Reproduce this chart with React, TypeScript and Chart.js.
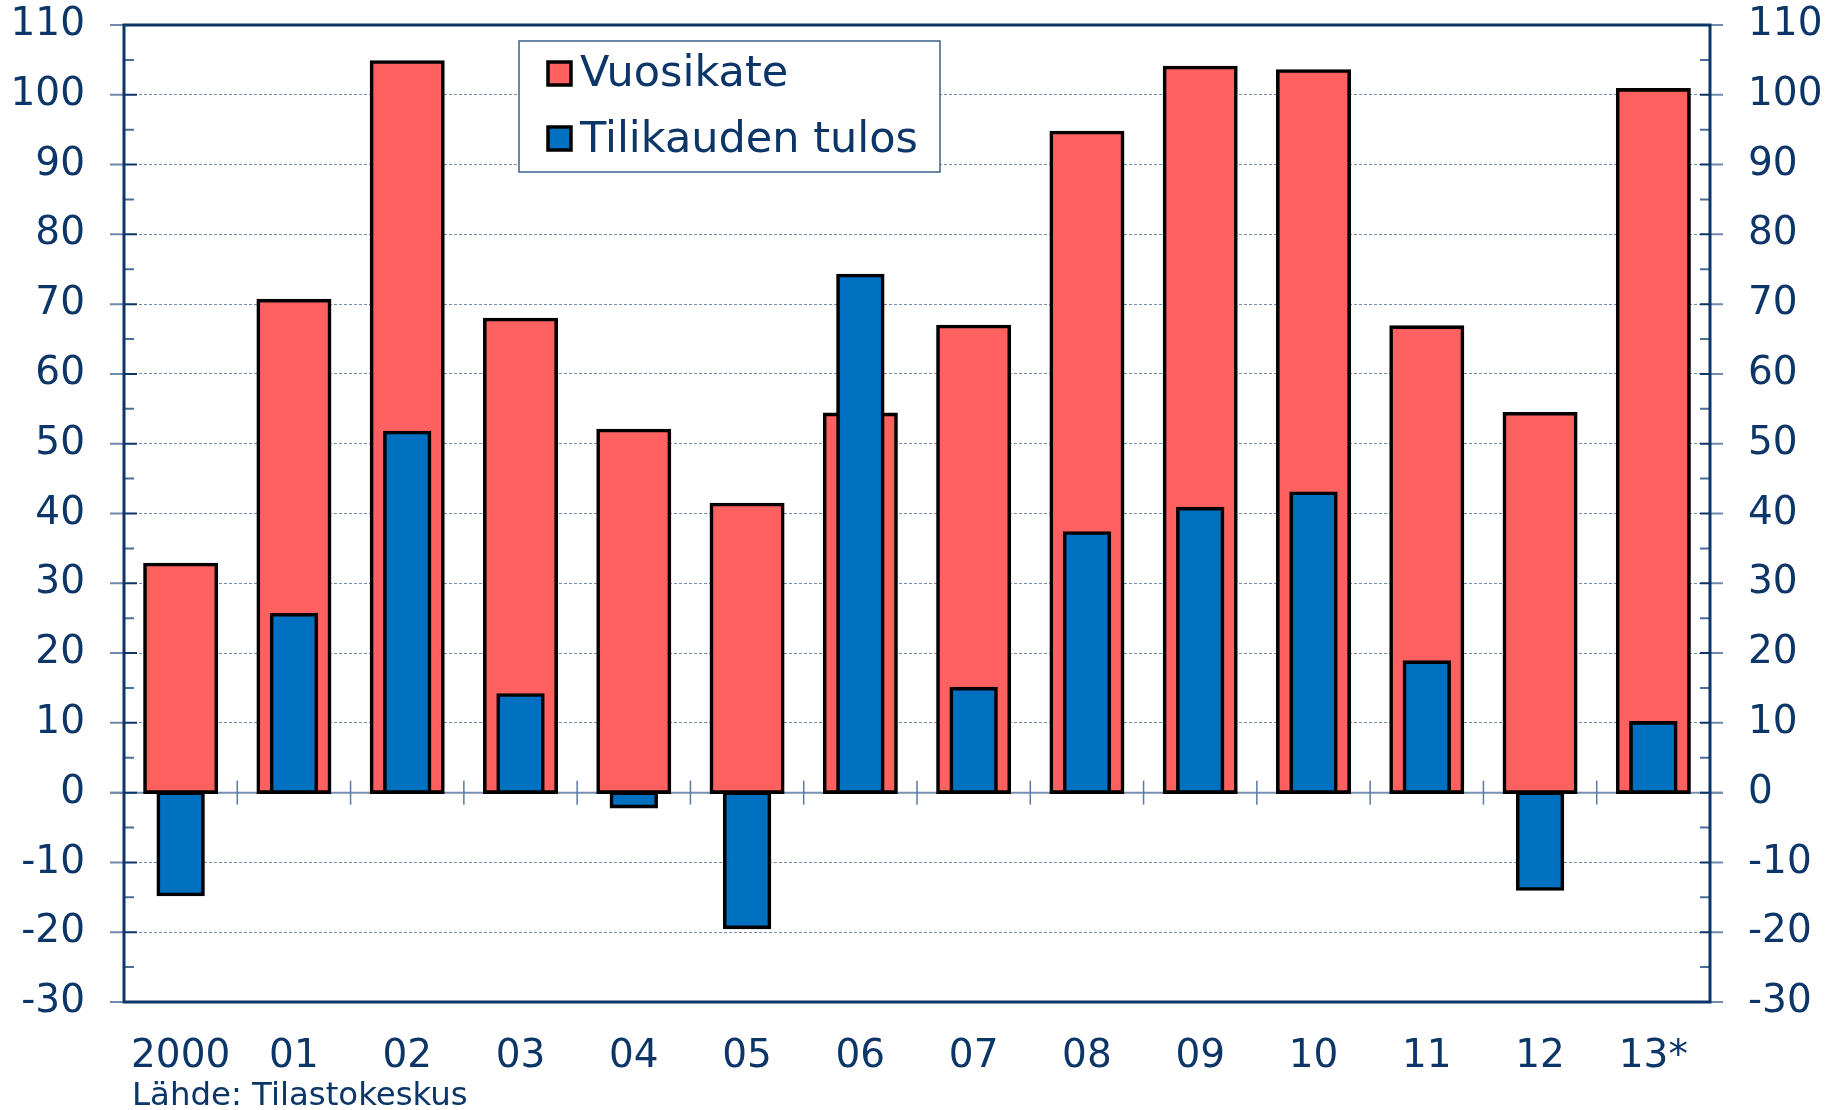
import React, { useEffect, useRef } from 'react';
import { Chart, registerables } from 'chart.js';

Chart.register(...registerables);

const categories = ['2000', '01', '02', '03', '04', '05', '06', '07', '08', '09', '10', '11', '12', '13*'];
const vuosikate = [32.7, 70.5, 104.7, 67.8, 51.9, 41.3, 54.2, 66.8, 94.6, 103.9, 103.4, 66.7, 54.3, 100.7];
const tilikaudenTulos = [-14.6, 25.5, 51.6, 14.0, -2.0, -19.3, 74.1, 14.9, 37.2, 40.7, 42.9, 18.7, -13.8, 10.0];
const seriesLabels = ['Vuosikate', 'Tilikauden tulos'];
const yMin = -30;
const yMax = 110;
const yStep = 10;
const yMinorStep = 5;
const sourceText = 'Lähde: Tilastokeskus';

const NAVY = '#0c3568';
const RED = '#ff6060';
const BLUE = '#0070c0';
const FONT = "'DejaVu Sans', Verdana, sans-serif";

const decorPlugin = {
  id: 'decor',
  beforeDatasetsDraw(chart: any) {
    const { ctx, chartArea: a, scales } = chart;
    const y = scales.y;
    const x = scales.x;
    const y0 = y.getPixelForValue(0);
    ctx.save();
    ctx.strokeStyle = '#7790b3';
    ctx.lineWidth = 2;
    ctx.beginPath();
    ctx.moveTo(a.left - 14, y0);
    ctx.lineTo(a.right + 13, y0);
    ctx.stroke();
    ctx.strokeStyle = '#5a7aa5';
    ctx.lineWidth = 1.5;
    for (let i = 1; i < categories.length; i++) {
      const px = (x.getPixelForValue(i - 1) + x.getPixelForValue(i)) / 2;
      ctx.beginPath();
      ctx.moveTo(px, y0 - 12);
      ctx.lineTo(px, y0 + 12);
      ctx.stroke();
    }
    ctx.restore();
  },
  afterDatasetsDraw(chart: any) {
    const { ctx, chartArea: a, scales } = chart;
    const y = scales.y;
    ctx.save();
    for (let v = yMin; v <= yMax; v += yMinorStep) {
      const py = y.getPixelForValue(v);
      const major = v % yStep === 0;
      ctx.lineWidth = 2;
      if (major) {
        ctx.strokeStyle = '#6f89ae';
        ctx.beginPath();
        ctx.moveTo(a.left - 14, py);
        ctx.lineTo(a.left, py);
        ctx.moveTo(a.right, py);
        ctx.lineTo(a.right + 13, py);
        ctx.stroke();
        ctx.strokeStyle = NAVY;
        ctx.beginPath();
        ctx.moveTo(a.left, py);
        ctx.lineTo(a.left + 13, py);
        ctx.moveTo(a.right - 10, py);
        ctx.lineTo(a.right, py);
        ctx.stroke();
      } else {
        ctx.strokeStyle = '#4d6d99';
        ctx.beginPath();
        ctx.moveTo(a.left, py);
        ctx.lineTo(a.left + 10, py);
        ctx.moveTo(a.right - 10, py);
        ctx.lineTo(a.right, py);
        ctx.stroke();
      }
    }
    ctx.strokeStyle = NAVY;
    ctx.lineWidth = 3;
    ctx.strokeRect(a.left, a.top, a.right - a.left, a.bottom - a.top);
    ctx.restore();
  },
  afterDraw(chart: any) {
    const { ctx } = chart;
    ctx.save();
    const bx = 519, by = 41, bw = 421, bh = 131;
    ctx.fillStyle = '#ffffff';
    ctx.fillRect(bx, by, bw, bh);
    ctx.strokeStyle = '#3d5f8f';
    ctx.lineWidth = 1.5;
    ctx.strokeRect(bx, by, bw, bh);
    const items = [
      { label: seriesLabels[0], color: RED, sy: 61, base: 86 },
      { label: seriesLabels[1], color: BLUE, sy: 126, base: 152 },
    ];
    ctx.font = `43px ${FONT}`;
    ctx.textBaseline = 'alphabetic';
    ctx.textAlign = 'left';
    for (const it of items) {
      ctx.fillStyle = it.color;
      ctx.fillRect(548, it.sy + 1, 23, 23);
      ctx.strokeStyle = '#000';
      ctx.lineWidth = 3.5;
      ctx.strokeRect(548, it.sy + 1, 23, 23);
      ctx.fillStyle = NAVY;
      ctx.fillText(it.label, 580, it.base);
    }
    ctx.restore();
  },
};

export default function App() {
  const ref = useRef<HTMLCanvasElement | null>(null);

  useEffect(() => {
    if (!ref.current) return;
    const gridColor = (c: any) => {
      const v = c.tick && c.tick.value;
      if (v === 0 || v === yMin || v === yMax) return 'rgba(0,0,0,0)';
      return 'rgba(70,100,150,0.75)';
    };
    const chart = new Chart(ref.current, {
      type: 'bar',
      data: {
        labels: categories,
        datasets: [
          {
            label: seriesLabels[0],
            data: vuosikate,
            backgroundColor: RED,
            borderColor: '#000000',
            borderWidth: 3.6,
            inflateAmount: 1.8,
            borderSkipped: false,
            grouped: false,
            barPercentage: 0.63,
            categoryPercentage: 1,
            order: 2,
          } as any,
          {
            label: seriesLabels[1],
            data: tilikaudenTulos,
            backgroundColor: BLUE,
            borderColor: '#000000',
            borderWidth: 3.6,
            inflateAmount: 1.8,
            borderSkipped: false,
            grouped: false,
            barPercentage: 0.395,
            categoryPercentage: 1,
            order: 1,
          } as any,
        ],
      },
      options: {
        responsive: false,
        animation: false,
        maintainAspectRatio: false,
        layout: { padding: { top: 25, left: 0, right: 0, bottom: 0 } },
        plugins: {
          legend: { display: false },
          tooltip: { enabled: false },
        },
        scales: {
          x: {
            type: 'category',
            offset: true,
            grid: { display: false, drawTicks: false },
            border: { display: false },
            ticks: {
              color: NAVY,
              font: { family: FONT, size: 39 },
              padding: 31,
              maxRotation: 0,
              autoSkip: false,
            },
            afterFit: (s: any) => {
              s.height = 108;
              s.paddingLeft = 0;
              s.paddingRight = 0;
            },
          },
          y: {
            position: 'left',
            min: yMin,
            max: yMax,
            grid: { color: gridColor, lineWidth: 1, drawTicks: false },
            border: { display: false, dash: [3, 2] },
            ticks: {
              stepSize: yStep,
              color: NAVY,
              font: { family: FONT, size: 39 },
              padding: 39,
            },
            afterFit: (s: any) => {
              s.width = 124;
              s.paddingTop = 0;
              s.paddingBottom = 0;
            },
          },
          y2: {
            position: 'right',
            min: yMin,
            max: yMax,
            grid: { drawOnChartArea: false, drawTicks: false },
            border: { display: false },
            ticks: {
              stepSize: yStep,
              color: NAVY,
              font: { family: FONT, size: 39 },
              padding: 38,
            },
            afterFit: (s: any) => {
              s.width = 127;
              s.paddingTop = 0;
              s.paddingBottom = 0;
            },
          },
        },
      },
      plugins: [decorPlugin],
    });
    return () => chart.destroy();
  }, []);

  return (
    <div style={{ position: 'fixed', left: 0, top: 0, width: 1837, height: 1110, background: '#fff', overflow: 'hidden' }}>
      <canvas ref={ref} width={1837} height={1110} style={{ display: 'block' }} />
      <div
        style={{
          position: 'absolute',
          left: 132,
          top: 1078,
          fontFamily: FONT,
          fontSize: 32.4,
          lineHeight: 1,
          color: NAVY,
          whiteSpace: 'nowrap',
        }}
      >
        {sourceText}
      </div>
    </div>
  );
}
